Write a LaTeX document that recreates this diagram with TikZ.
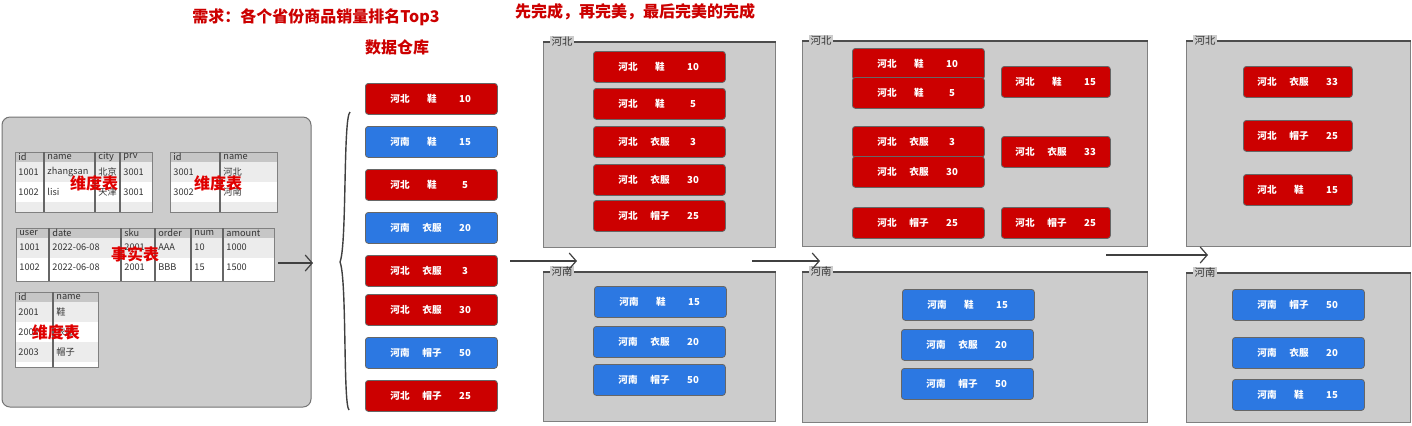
\documentclass[tikz,border=0pt]{standalone}
\usepackage{fontspec}
\setmainfont{Noto Sans CJK SC}
\usetikzlibrary{arrows.meta,calc}
\definecolor{rd}{HTML}{CC0000}
\definecolor{bl}{HTML}{2C78E2}
\definecolor{pg}{HTML}{CCCCCC}
\definecolor{hdr}{HTML}{C6C6C6}
\definecolor{rowa}{HTML}{ECECEC}
\definecolor{lbl}{HTML}{E00000}
\tikzset{
  rec/.style={draw=black!60, line width=0.4pt, rounded corners=1.5pt, minimum height=15.5pt, inner sep=0pt, anchor=north west},
  recw/.style={rec, minimum width=66pt},
  recn/.style={rec, minimum width=54.5pt},
  rt/.style={text=white, font=\bfseries\fontsize{4.8pt}{5.5pt}\selectfont, inner sep=0pt},
  tt/.style={anchor=west, inner sep=0pt, font=\fontsize{4.6pt}{5.5pt}\selectfont, text=black!80},
  lab/.style={text=lbl, font=\bfseries\fontsize{8pt}{9pt}\selectfont, inner sep=0pt},
  ttl/.style={text=rd, font=\bfseries\fontsize{8pt}{9pt}\selectfont, inner sep=0pt},
  grp/.style={draw=black!50, line width=0.5pt, fill=pg, inner sep=0pt, anchor=north west},
  gtop/.style={draw=black!70, line width=0.6pt},
  glab/.style={fill=pg, text=black!80, font=\fontsize{5.2pt}{6pt}\selectfont, inner sep=0.6pt},
  arr/.style={draw=black!75, line width=0.6pt, -{Straight Barb[length=3.5pt,width=8pt,line width=0.6pt]}},
  tbd/.style={draw=black!50, line width=0.5pt},
  cln/.style={draw=black!60, line width=0.6pt},
}
\newcommand\recW[7]{%
  \node[recw, fill=#4] (#1) at (#2,#3) {};
  \node[rt] (#1p) at ($(#1.west)+(35,0)$) {#5};
  \node[rt] (#1i) at ($(#1.west)+(67,0)$) {#6};
  \node[rt] (#1n) at ($(#1.west)+(100,0)$) {#7};}
\newcommand\recN[7]{%
  \node[recn, fill=#4] (#1) at (#2,#3) {};
  \node[rt] (#1p) at ($(#1.west)+(24,0)$) {#5};
  \node[rt] (#1i) at ($(#1.west)+(56,0)$) {#6};
  \node[rt] (#1n) at ($(#1.west)+(89,0)$) {#7};}
\newcommand\grpbox[6]{% name, x1, y1, x2, y2, label
  \node[grp, minimum width={(#4-#2)*0.5pt}, minimum height={(#5-#3)*0.5pt}] (#1) at (#2,#3) {};
  \draw[gtop] (#1.north west) -- (#1.north east);
  \node[glab] (#1l) at ($(#1.north west)+(19,0)$) {#6};}
\begin{document}
\begin{tikzpicture}[x=0.5pt, y=-0.5pt]
\useasboundingbox (0,0) rectangle (1412,425);
\fill[white] (0,0) rectangle (1412,425);

% titles
\node[ttl] (title) at (316,17) {需求：各个省份商品销量排名Top3};
\node[ttl] (dw) at (397,47) {数据仓库};
\node[ttl] (motto) at (635,12) {先完成，再完美，最后完美的完成};

% left panel
\node[draw=black!55, line width=0.5pt, fill=pg, rounded corners=4pt, minimum width=154.5pt, minimum height=145pt, inner sep=0pt] (panel) at (156.5,262) {};

% table 1
\fill[hdr] (15,152) rectangle (152,162);
\fill[rowa] (15,162) rectangle (152,182);
\fill[white] (15,182) rectangle (152,202);
\fill[rowa] (15,202) rectangle (152,212);
\draw[tbd] (15,152) rectangle (152,212);
\foreach \x in {44,95,120} \draw[cln] (\x,152) -- (\x,212);
\foreach \x/\y/\t [count=\i] in {15/157/id,44/157/name,95/157/city,120/157/prv,
  15/172/1001,44/172/zhangsan,95/172/北京,120/172/3001,
  15/192/1002,44/192/lisi,95/192/天津,120/192/3001}
  \node[tt] (ta\i) at (\x+3,\y) {\t};
\node[lab] (lab1) at (94,183) {维度表};

% table 2
\fill[hdr] (170,152) rectangle (277,162);
\fill[rowa] (170,162) rectangle (277,182);
\fill[white] (170,182) rectangle (277,202);
\fill[rowa] (170,202) rectangle (277,212);
\draw[tbd] (170,152) rectangle (277,212);
\draw[cln] (220,152) -- (220,212);
\foreach \x/\y/\t [count=\i] in {170/157/id,220/157/name,
  170/172/3001,220/172/河北,170/192/3002,220/192/河南}
  \node[tt] (tb\i) at (\x+3,\y) {\t};
\node[lab] (lab2) at (218,183) {维度表};

% fact table
\fill[hdr] (16,228) rectangle (274,238);
\fill[rowa] (16,238) rectangle (274,258);
\fill[white] (16,258) rectangle (274,281);
\draw[tbd] (16,228) rectangle (274,281);
\foreach \x in {49,121,155,191,223} \draw[cln] (\x,228) -- (\x,281);
\foreach \x/\y/\t [count=\i] in {16/233/user,49/233/date,121/233/sku,155/233/order,191/233/num,223/233/amount,
  16/247/1001,49/247/2022-06-08,121/247/2001,155/247/AAA,191/247/10,223/247/1000,
  16/267/1002,49/267/2022-06-08,121/267/2001,155/267/BBB,191/267/15,223/267/1500}
  \node[tt] (tc\i) at (\x+3,\y) {\t};
\node[lab] (lab3) at (135,254) {事实表};

% table 4
\fill[hdr] (15,292) rectangle (98,302);
\fill[rowa] (15,302) rectangle (98,322);
\fill[white] (15,322) rectangle (98,342);
\fill[rowa] (15,342) rectangle (98,362);
\fill[white] (15,362) rectangle (98,367);
\draw[tbd] (15,292) rectangle (98,367);
\draw[cln] (53,292) -- (53,367);
\foreach \x/\y/\t [count=\i] in {15/297/id,53/297/name,
  15/312/2001,53/312/鞋,15/332/2002,53/332/衣服,15/352/2003,53/352/帽子}
  \node[tt] (td\i) at (\x+3,\y) {\t};
\node[lab] (lab4) at (56,332) {维度表};

% arrow out of panel
\coordinate (a1s) at (278,263);
\coordinate (a1e) at (313,263);
\draw[arr] (a1s) -- (a1e);

% brace
\draw[black!75, line width=0.7pt] (350,112) .. controls (343,118) and (347,245) .. (340,262)
  .. controls (347,279) and (343,404) .. (349,410);

% warehouse records
\recW{w1}{365}{83}{rd}{河北}{鞋}{10}
\recW{w2}{365}{126}{bl}{河南}{鞋}{15}
\recW{w3}{365}{169}{rd}{河北}{鞋}{5}
\recW{w4}{365}{212}{bl}{河南}{衣服}{20}
\recW{w5}{365}{255}{rd}{河北}{衣服}{3}
\recW{w6}{365}{294}{rd}{河北}{衣服}{30}
\recW{w7}{365}{337}{bl}{河南}{帽子}{50}
\recW{w8}{365}{380}{rd}{河北}{帽子}{25}

% group boxes
\grpbox{gA}{543}{42}{775}{247}{河北}
\grpbox{gB}{543}{272}{775}{421}{河南}
\grpbox{gC}{802}{41}{1147}{246}{河北}
\grpbox{gD}{802}{272}{1147}{422}{河南}
\grpbox{gE}{1186}{41}{1410}{246}{河北}
\grpbox{gF}{1186}{273}{1410}{422}{河南}

% box A
\recW{a1}{593}{51}{rd}{河北}{鞋}{10}
\recW{a2}{593}{88}{rd}{河北}{鞋}{5}
\recW{a3}{593}{126}{rd}{河北}{衣服}{3}
\recW{a4}{593}{164}{rd}{河北}{衣服}{30}
\recW{a5}{593}{200}{rd}{河北}{帽子}{25}
% box B
\recW{b1}{594}{286}{bl}{河南}{鞋}{15}
\recW{b2}{593}{326}{bl}{河南}{衣服}{20}
\recW{b3}{593}{364}{bl}{河南}{帽子}{50}
% box C
\recW{c1}{852}{48}{rd}{河北}{鞋}{10}
\recW{c2}{852}{77}{rd}{河北}{鞋}{5}
\recW{c3}{852}{126}{rd}{河北}{衣服}{3}
\recW{c4}{852}{156}{rd}{河北}{衣服}{30}
\recW{c5}{852}{207}{rd}{河北}{帽子}{25}
\recN{c6}{1001}{66}{rd}{河北}{鞋}{15}
\recN{c7}{1001}{136}{rd}{河北}{衣服}{33}
\recN{c8}{1001}{207}{rd}{河北}{帽子}{25}
% box D
\recW{d1}{902}{289}{bl}{河南}{鞋}{15}
\recW{d2}{901}{329}{bl}{河南}{衣服}{20}
\recW{d3}{901}{368}{bl}{河南}{帽子}{50}
% box E
\recN{e1}{1243}{66}{rd}{河北}{衣服}{33}
\recN{e2}{1243}{120}{rd}{河北}{帽子}{25}
\recN{e3}{1243}{174}{rd}{河北}{鞋}{15}
% box F
\recW{f1}{1232}{289}{bl}{河南}{帽子}{50}
\recW{f2}{1232}{337}{bl}{河南}{衣服}{20}
\recW{f3}{1232}{379}{bl}{河南}{鞋}{15}

% stage arrows
\coordinate (a2s) at (510,261);
\coordinate (a2e) at (577,261);
\draw[arr] (a2s) -- (a2e);
\coordinate (a3s) at (752,261);
\coordinate (a3e) at (820,261);
\draw[arr] (a3s) -- (a3e);
\coordinate (a4s) at (1106,255);
\coordinate (a4e) at (1208,255);
\draw[arr] (a4s) -- (a4e);
\end{tikzpicture}
\end{document}
